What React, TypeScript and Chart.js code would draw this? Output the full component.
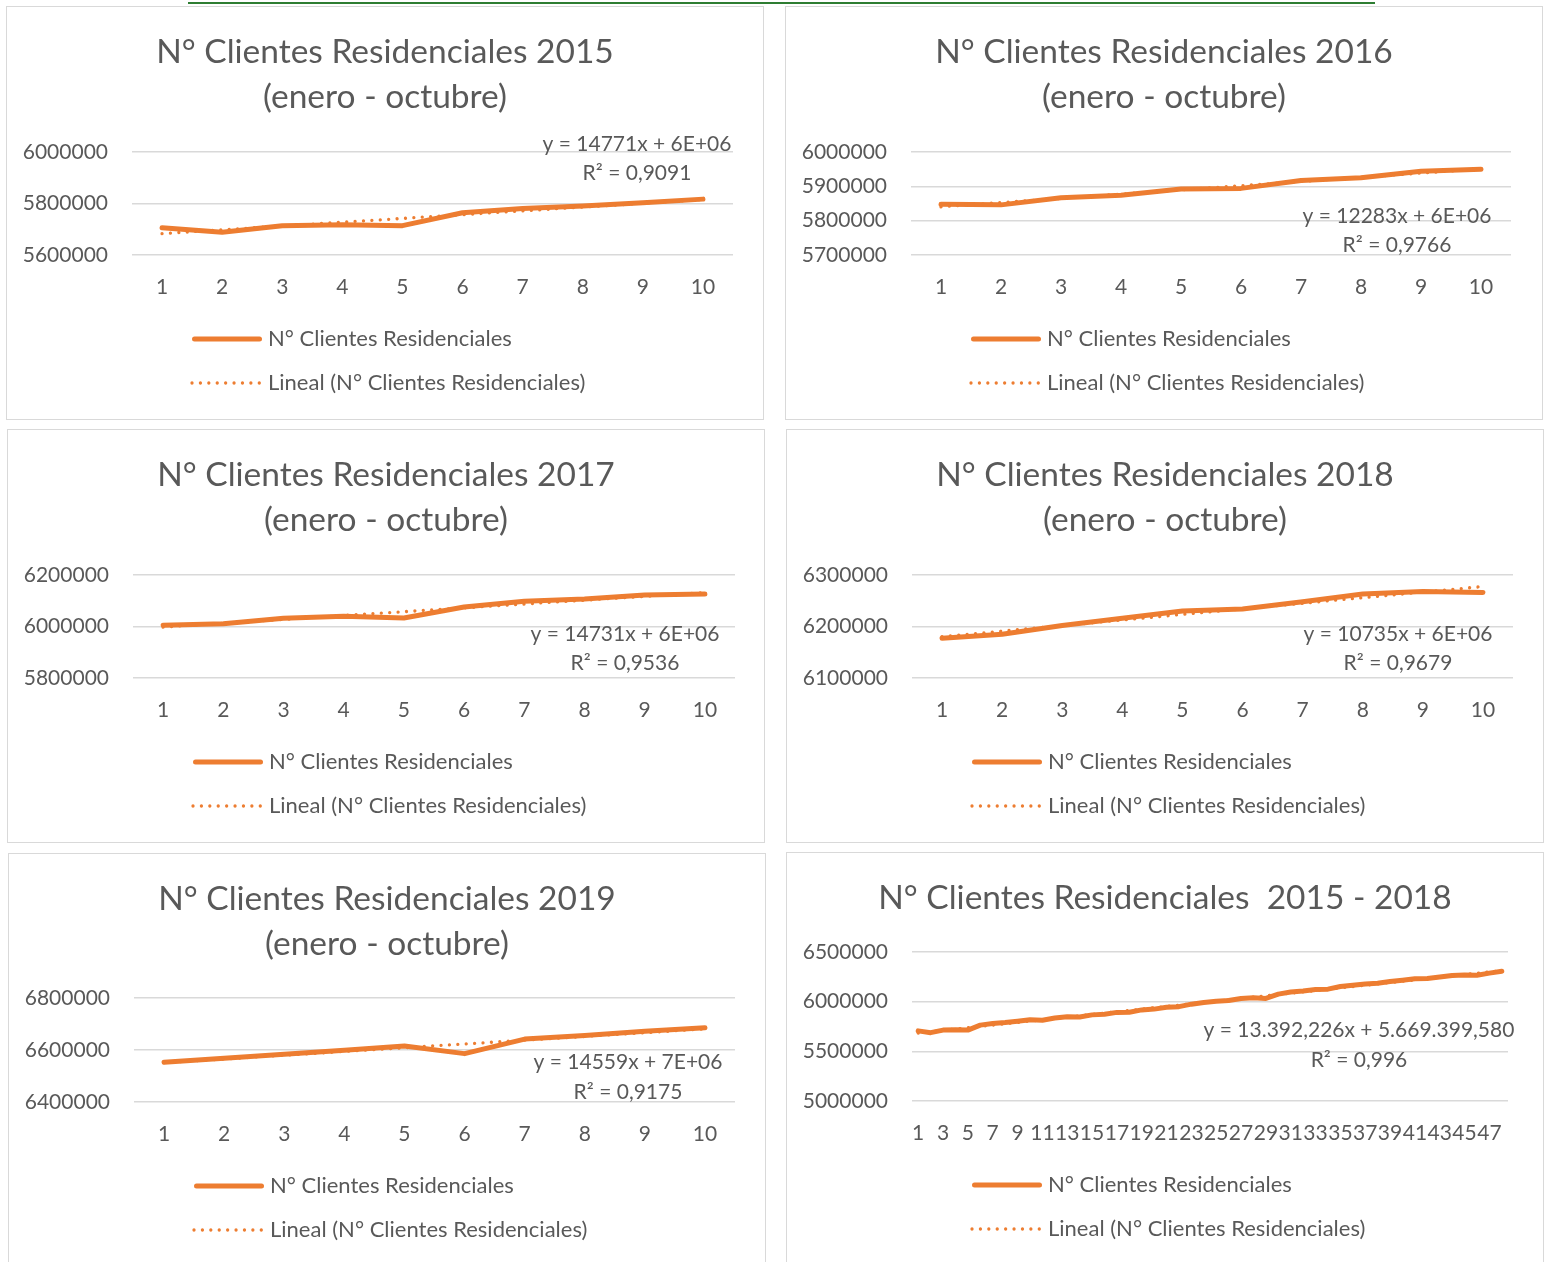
import React, { useEffect, useRef } from 'react';
import { Chart, registerables } from 'chart.js';

Chart.register(...registerables);

// ---------- data ----------
const meses10 = ['1', '2', '3', '4', '5', '6', '7', '8', '9', '10'];
const meses48 = [
  '1', '2', '3', '4', '5', '6', '7', '8', '9', '10', '11', '12',
  '13', '14', '15', '16', '17', '18', '19', '20', '21', '22', '23', '24',
  '25', '26', '27', '28', '29', '30', '31', '32', '33', '34', '35', '36',
  '37', '38', '39', '40', '41', '42', '43', '44', '45', '46', '47', '48',
];

const clientes2015 = [5706000, 5688000, 5714000, 5717000, 5714000, 5764000, 5781000, 5790000, 5803000, 5817000];
const clientes2016 = [5848000, 5846000, 5867000, 5874000, 5892000, 5894000, 5917000, 5925000, 5944000, 5950000];
const clientes2017 = [6005000, 6011000, 6032000, 6040000, 6033000, 6076000, 6098000, 6107000, 6122000, 6126000];
const clientes2018 = [6177000, 6185000, 6202000, 6216000, 6230000, 6234000, 6248000, 6263000, 6268000, 6266000];
const clientes2019 = [6553000, 6568000, 6584000, 6599000, 6615000, 6586000, 6642000, 6656000, 6672000, 6686000];

// noviembre - diciembre (only visible in the 2015 - 2018 chart)
const novDic2015 = [5813000, 5835000];
const novDic2016 = [5975000, 5992000];
const novDic2017 = [6152000, 6166000];
const novDic2018 = [6287000, 6307000];

const clientes2015a2018 = [
  ...clientes2015, ...novDic2015,
  ...clientes2016, ...novDic2016,
  ...clientes2017, ...novDic2017,
  ...clientes2018, ...novDic2018,
];

const serieLabel = 'N° Clientes Residenciales';
const tendenciaLabel = 'Lineal (N° Clientes Residenciales)';

const eq2015 = ['y = 14771x + 6E+06', 'R² = 0,9091'];
const eq2016 = ['y = 12283x + 6E+06', 'R² = 0,9766'];
const eq2017 = ['y = 14731x + 6E+06', 'R² = 0,9536'];
const eq2018 = ['y = 10735x + 6E+06', 'R² = 0,9679'];
const eq2019 = ['y = 14559x + 7E+06', 'R² = 0,9175'];
const eqTotal = ['y = 13.392,226x + 5.669.399,580', 'R² = 0,996'];

const subtitulo = '(enero - octubre)';

// ---------- styles ----------
const ORANGE = '#ED7D31';
const TEXT = '#595959';
const GRID = '#D9D9D9';
const FONT = 'Lato, "Open Sans", sans-serif';
const W = 756;
const H = 412;
const TITLE_SIZE = 33.5;
const TICK_SIZE = 21;
const LEGEND_SIZE = 22;
const EQ_SIZE = 21;

function linearFit(values: number[]): number[] {
  const n = values.length;
  let sx = 0, sy = 0, sxx = 0, sxy = 0;
  values.forEach((v, i) => {
    const x = i + 1;
    sx += x; sy += v; sxx += x * x; sxy += x * v;
  });
  const slope = (n * sxy - sx * sy) / (n * sxx - sx * sx);
  const intercept = (sy - slope * sx) / n;
  return values.map((_, i) => intercept + slope * (i + 1));
}

type PanelProps = {
  left: number;
  top: number;
  title: string[];
  categories: string[];
  values: number[];
  yMin: number;
  yMax: number;
  yStep: number;
  eq: string[];
  eqX: number;
  eqY1: number;
  eqY2: number;
  chartTop: number;
  padRight: number;
  oddOnly?: boolean;
};

function Panel(p: PanelProps) {
  const ref = useRef<HTMLCanvasElement | null>(null);

  useEffect(() => {
    if (!ref.current) return;
    const titleLH = 45;
    const titleTop = 22.5;
    const titleBottom = p.chartTop - titleTop - titleLH * p.title.length;

    const overlay = {
      id: 'overlay',
      afterDraw(chart: any) {
        const ctx = chart.ctx as CanvasRenderingContext2D;
        ctx.save();
        const ds = chart.data.datasets;
        // legend row 1 (solid)
        ctx.strokeStyle = ORANGE;
        ctx.lineCap = 'round';
        ctx.lineWidth = 5;
        ctx.setLineDash([]);
        ctx.beginPath();
        ctx.moveTo(187.5, 332);
        ctx.lineTo(252.5, 332);
        ctx.stroke();
        // legend row 2 (dotted)
        ctx.lineWidth = 3.3;
        ctx.setLineDash([0.01, 8.4]);
        ctx.beginPath();
        ctx.moveTo(185, 376);
        ctx.lineTo(254, 376);
        ctx.stroke();
        ctx.setLineDash([]);
        ctx.fillStyle = TEXT;
        ctx.font = `${LEGEND_SIZE}px ${FONT}`;
        ctx.textBaseline = 'middle';
        ctx.textAlign = 'left';
        ctx.fillText(ds[0].label, 261, 332);
        ctx.fillText(ds[1].label, 261, 376);
        // trendline equation
        ctx.font = `${EQ_SIZE}px ${FONT}`;
        ctx.textAlign = 'center';
        ctx.fillText(p.eq[0], p.eqX, p.eqY1);
        ctx.fillText(p.eq[1], p.eqX, p.eqY2);
        ctx.restore();
      },
    };

    const chart = new Chart(ref.current, {
      type: 'line',
      data: {
        labels: p.categories,
        datasets: [
          {
            label: serieLabel,
            data: p.values,
            borderColor: ORANGE,
            backgroundColor: ORANGE,
            borderWidth: 5,
            borderCapStyle: 'round',
            borderJoinStyle: 'round',
            pointRadius: 0,
            tension: 0,
            order: 2,
          },
          {
            label: tendenciaLabel,
            data: linearFit(p.values),
            borderColor: ORANGE,
            backgroundColor: ORANGE,
            borderWidth: 3.3,
            borderDash: [0.01, 8.4],
            borderCapStyle: 'round',
            pointRadius: 0,
            tension: 0,
            order: 1,
          },
        ],
      },
      options: {
        responsive: false,
        animation: false,
        devicePixelRatio: 1,
        layout: { padding: { left: 0, top: 0, right: 0, bottom: 100 } },
        plugins: {
          legend: { display: false },
          tooltip: { enabled: false },
          title: {
            display: true,
            text: p.title,
            color: TEXT,
            font: { family: FONT, size: TITLE_SIZE, weight: 'normal', lineHeight: titleLH / TITLE_SIZE },
            padding: { top: titleTop, bottom: titleBottom },
          },
        },
        scales: {
          x: {
            offset: true,
            grid: { display: false, drawTicks: false },
            border: { display: false },
            ticks: {
              color: TEXT,
              font: { family: FONT, size: TICK_SIZE, lineHeight: 24 / TICK_SIZE },
              padding: 20,
              autoSkip: false,
              maxRotation: 0,
              callback: (_v: any, i: number) =>
                p.oddOnly ? (i % 2 === 0 ? p.categories[i] : '') : p.categories[i],
            },
          },
          y: {
            min: p.yMin,
            max: p.yMax,
            grid: { color: GRID, lineWidth: 1.5, drawTicks: false },
            border: { display: false },
            afterFit: (s: any) => { s.width = 125; },
            ticks: {
              stepSize: p.yStep,
              color: TEXT,
              font: { family: FONT, size: TICK_SIZE },
              padding: 24,
              callback: (v: any) => String(v),
            },
          },
          // empty right-hand spacer so the title stays centred on the whole panel
          ySpacer: {
            type: 'linear',
            position: 'right',
            display: true,
            grid: { display: false, drawTicks: false },
            border: { display: false },
            ticks: { display: false },
            afterFit: (s: any) => { s.width = p.padRight; },
          },
        },
      },
      plugins: [overlay],
    } as any);
    return () => chart.destroy();
  }, []);

  return (
    <div
      style={{
        position: 'absolute',
        left: p.left,
        top: p.top,
        width: W,
        height: H,
        outline: '1.5px solid #D9D9D9',
        background: '#fff',
      }}
    >
      <canvas ref={ref} width={W} height={H} style={{ width: W, height: H, display: 'block' }} />
    </div>
  );
}

export default function App() {
  return (
    <div
      style={{
        position: 'absolute',
        left: 0,
        top: 0,
        width: 1549,
        height: 1262,
        overflow: 'hidden',
        background: '#fff',
      }}
    >
      <div style={{ position: 'absolute', left: 188, top: 2, width: 1187, height: 2, background: '#2E7D32' }} />
      <Panel left={7} top={7} title={['N° Clientes Residenciales 2015', subtitulo]} categories={meses10}
        values={clientes2015} yMin={5600000} yMax={6000000} yStep={200000}
        eq={eq2015} eqX={630} eqY1={137} eqY2={166} chartTop={145} padRight={30} />
      <Panel left={786} top={7} title={['N° Clientes Residenciales 2016', subtitulo]} categories={meses10}
        values={clientes2016} yMin={5700000} yMax={6000000} yStep={100000}
        eq={eq2016} eqX={611} eqY1={209} eqY2={238} chartTop={145} padRight={31} />
      <Panel left={8} top={430} title={['N° Clientes Residenciales 2017', subtitulo]} categories={meses10}
        values={clientes2017} yMin={5800000} yMax={6200000} yStep={200000}
        eq={eq2017} eqX={617} eqY1={204} eqY2={233} chartTop={145} padRight={29} />
      <Panel left={787} top={430} title={['N° Clientes Residenciales 2018', subtitulo]} categories={meses10}
        values={clientes2018} yMin={6100000} yMax={6300000} yStep={100000}
        eq={eq2018} eqX={611} eqY1={204} eqY2={233} chartTop={145} padRight={30} />
      <Panel left={9} top={854} title={['N° Clientes Residenciales 2019', subtitulo]} categories={meses10}
        values={clientes2019} yMin={6400000} yMax={6800000} yStep={200000}
        eq={eq2019} eqX={619} eqY1={208} eqY2={238} chartTop={144} padRight={30} />
      <Panel left={787} top={853} title={['N° Clientes Residenciales  2015 - 2018']} categories={meses48}
        values={clientes2015a2018} yMin={5000000} yMax={6500000} yStep={500000}
        eq={eqTotal} eqX={572} eqY1={177} eqY2={207} chartTop={99} padRight={35} oddOnly />
    </div>
  );
}
